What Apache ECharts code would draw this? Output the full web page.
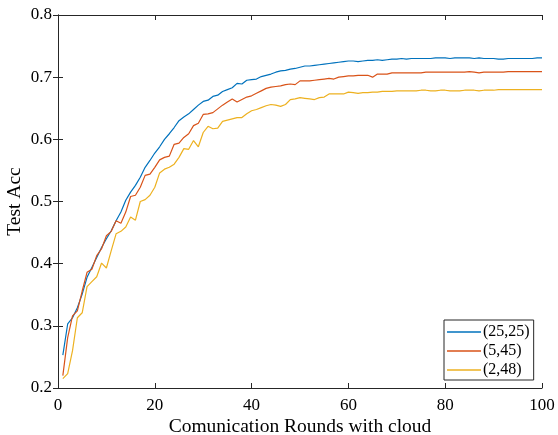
<!DOCTYPE html>
<html>
<head>
<meta charset="utf-8">
<script src="https://cdn.jsdelivr.net/npm/echarts@6/dist/echarts.min.js"></script>
<style>
  html, body { margin: 0; padding: 0; background: #fff; }
  #chart { width: 558px; height: 435px; }
</style>
</head>
<body>
<div id="chart"></div>
<script>
// test accuracy per communication round
const rounds = Array.from({ length: 100 }, (_, i) => i + 1)
const acc25 = [
  0.253, 0.303, 0.313, 0.329, 0.351, 0.378, 0.394, 0.410, 0.426, 0.440,
  0.453, 0.469, 0.483, 0.502, 0.515, 0.526, 0.539, 0.555, 0.566, 0.578,
  0.588, 0.600, 0.609, 0.619, 0.630, 0.636, 0.641, 0.648, 0.655, 0.661,
  0.663, 0.669, 0.671, 0.677, 0.680, 0.683, 0.690, 0.689, 0.695, 0.696,
  0.697, 0.701, 0.703, 0.705, 0.708, 0.710, 0.711, 0.713, 0.714, 0.716,
  0.718, 0.718, 0.719, 0.720, 0.721, 0.722, 0.723, 0.724, 0.725, 0.726,
  0.726, 0.725, 0.726, 0.727, 0.727, 0.728, 0.727, 0.728, 0.729, 0.729,
  0.730, 0.729, 0.730, 0.730, 0.730, 0.730, 0.730, 0.731, 0.731, 0.731,
  0.730, 0.731, 0.731, 0.731, 0.731, 0.730, 0.731, 0.730, 0.730, 0.730,
  0.729, 0.729, 0.730, 0.730, 0.730, 0.730, 0.730, 0.730, 0.731, 0.731
]
const acc5 = [
  0.220, 0.281, 0.316, 0.324, 0.356, 0.386, 0.391, 0.413, 0.424, 0.445,
  0.452, 0.469, 0.465, 0.483, 0.508, 0.510, 0.523, 0.542, 0.544, 0.555,
  0.567, 0.571, 0.573, 0.592, 0.594, 0.603, 0.609, 0.622, 0.626, 0.640,
  0.641, 0.643, 0.649, 0.655, 0.660, 0.665, 0.660, 0.664, 0.668, 0.670,
  0.674, 0.678, 0.682, 0.684, 0.685, 0.686, 0.688, 0.689, 0.688, 0.694,
  0.694, 0.694, 0.695, 0.696, 0.697, 0.698, 0.697, 0.700, 0.701, 0.702,
  0.702, 0.703, 0.703, 0.703, 0.700, 0.705, 0.705, 0.705, 0.707, 0.707,
  0.707, 0.707, 0.707, 0.707, 0.707, 0.708, 0.708, 0.708, 0.708, 0.708,
  0.708, 0.708, 0.708, 0.708, 0.709, 0.708, 0.707, 0.708, 0.708, 0.708,
  0.708, 0.708, 0.709, 0.709, 0.709, 0.709, 0.709, 0.709, 0.709, 0.709
]
const acc2 = [
  0.215, 0.223, 0.260, 0.313, 0.321, 0.363, 0.371, 0.379, 0.401, 0.393,
  0.421, 0.448, 0.452, 0.459, 0.475, 0.470, 0.500, 0.503, 0.510, 0.523,
  0.546, 0.552, 0.555, 0.560, 0.571, 0.585, 0.584, 0.598, 0.588, 0.611,
  0.621, 0.617, 0.618, 0.629, 0.631, 0.633, 0.635, 0.635, 0.641, 0.646,
  0.648, 0.651, 0.654, 0.656, 0.655, 0.653, 0.656, 0.664, 0.665, 0.667,
  0.666, 0.665, 0.664, 0.667, 0.668, 0.673, 0.673, 0.673, 0.673, 0.676,
  0.675, 0.674, 0.675, 0.675, 0.676, 0.676, 0.677, 0.677, 0.677, 0.678,
  0.678, 0.678, 0.678, 0.678, 0.679, 0.679, 0.678, 0.678, 0.679, 0.679,
  0.678, 0.678, 0.678, 0.679, 0.679, 0.679, 0.678, 0.679, 0.679, 0.679,
  0.680, 0.680, 0.680, 0.680, 0.680, 0.680, 0.680, 0.680, 0.680, 0.680
]
const seriesNames = ['(25,25)', '(5,45)', '(2,48)']
const colors = ['#0072BD', '#D95319', '#EDB120']

const font = 'Liberation Serif, Times New Roman, serif'
const axisColor = '#262626'

function pairs(vals) {
  return rounds.map((r, i) => [r, vals[i]])
}

const chart = echarts.init(document.getElementById('chart'))

const boxAxis = {
  axisLine: { show: true, lineStyle: { color: axisColor, width: 1 } },
  axisTick: { show: true, inside: true, length: 5, lineStyle: { color: axisColor } },
  splitLine: { show: false }
}

chart.setOption({
  backgroundColor: '#fff',
  animation: false,
  color: colors,
  grid: { left: 58, right: 16, top: 15, bottom: 47, outerBoundsMode: 'none', containLabel: false },
  legend: {
    orient: 'vertical',
    left: 444,
    top: 320,
    padding: [4, 4, 2, 3],
    itemGap: 3,
    itemWidth: 34,
    itemHeight: 1.5,
    icon: 'rect',
    borderColor: axisColor,
    borderWidth: 1,
    borderRadius: 0,
    backgroundColor: '#fff',
    textStyle: { fontFamily: font, fontSize: 16, color: '#000', padding: [0, 0, 0, -3] },
    data: seriesNames
  },
  xAxis: [
    {
      ...boxAxis,
      type: 'value',
      min: 0,
      max: 100,
      interval: 20,
      name: 'Comunication Rounds with cloud',
      nameLocation: 'middle',
      nameGap: 29,
      nameMoveOverlap: false,
      nameTextStyle: { fontFamily: font, fontSize: 19.5, color: '#000' },
      axisLabel: { fontFamily: font, fontSize: 17, color: '#000', margin: 9 }
    },
    {
      ...boxAxis,
      type: 'value',
      position: 'top',
      min: 0,
      max: 100,
      interval: 20,
      axisLabel: { show: false }
    }
  ],
  yAxis: [
    {
      ...boxAxis,
      type: 'value',
      min: 0.2,
      max: 0.8,
      interval: 0.1,
      name: 'Test Acc',
      nameLocation: 'middle',
      nameGap: 33,
      nameMoveOverlap: false,
      nameTextStyle: { fontFamily: font, fontSize: 19.5, color: '#000' },
      axisLabel: {
        fontFamily: font, fontSize: 17, color: '#000', margin: 6,
        formatter: v => v.toFixed(1)
      }
    },
    {
      ...boxAxis,
      type: 'value',
      position: 'right',
      min: 0.2,
      max: 0.8,
      interval: 0.1,
      axisLabel: { show: false }
    }
  ],
  series: [
    { name: seriesNames[0], type: 'line', data: pairs(acc25) },
    { name: seriesNames[1], type: 'line', data: pairs(acc5) },
    { name: seriesNames[2], type: 'line', data: pairs(acc2) }
  ].map((s, i) => ({
    ...s,
    showSymbol: false,
    symbol: 'none',
    lineStyle: { width: 1.2, color: colors[i] },
    itemStyle: { color: colors[i] }
  }))
})
</script>
</body>
</html>
